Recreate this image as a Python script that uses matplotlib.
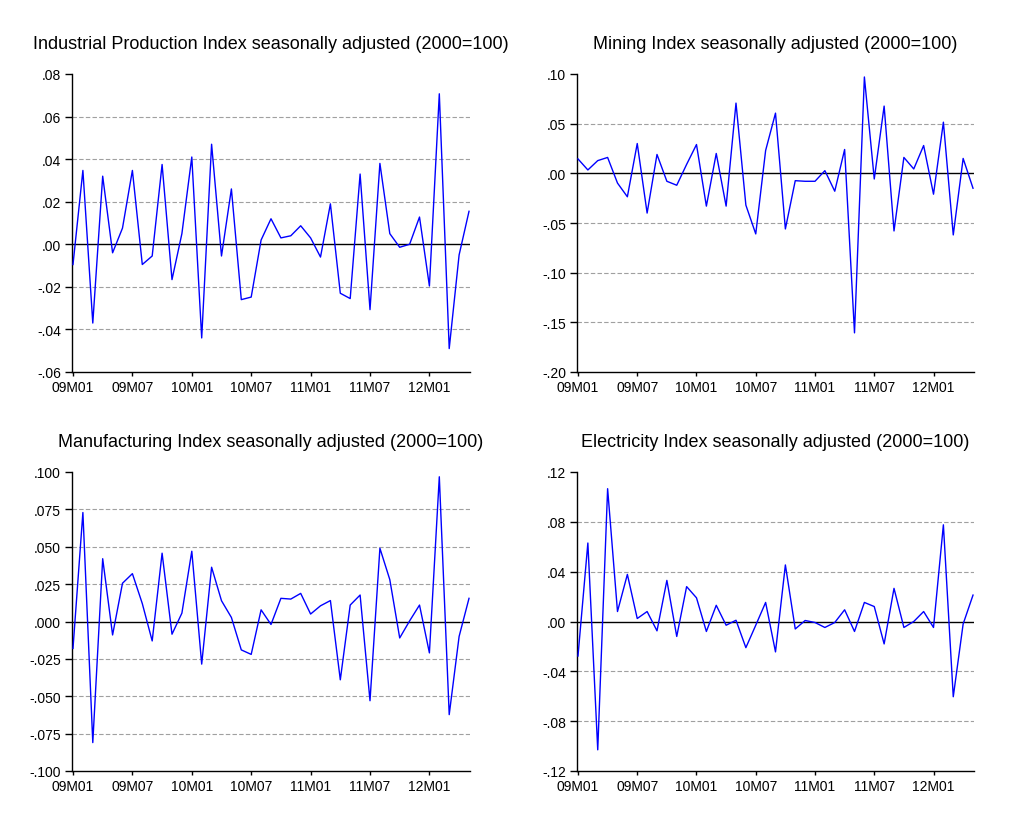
import matplotlib.pyplot as plt
from matplotlib.ticker import FuncFormatter

plt.rcParams['font.family'] = ['Liberation Sans', 'DejaVu Sans']

# monthly periods 2009M01 .. 2012M05
months = [f"{y:02d}M{m:02d}" for y in range(9, 13) for m in range(1, 13)][:41]

industrial = [-0.0095, 0.0347, -0.037, 0.032, -0.004, 0.0076, 0.0347, -0.0095, -0.0055, 0.0375,
              -0.0166, 0.005, 0.041, -0.044, 0.047, -0.0055, 0.026, -0.026, -0.0248, 0.002,
              0.012, 0.003, 0.004, 0.0087, 0.003, -0.006, 0.019, -0.023, -0.0255, 0.033,
              -0.0307, 0.038, 0.005, -0.0014, 0.0, 0.0128, -0.0196, 0.0707, -0.049, -0.005,
              0.0155]

mining = [0.0145, 0.0034, 0.0128, 0.016, -0.0098, -0.0236, 0.030, -0.040, 0.019, -0.008,
          -0.012, 0.009, 0.029, -0.033, 0.020, -0.033, 0.0707, -0.032, -0.061, 0.023,
          0.0606, -0.056, -0.0074, -0.008, -0.008, 0.0027, -0.018, 0.024, -0.1606, 0.097,
          -0.0057, 0.0677, -0.058, 0.016, 0.0044, 0.028, -0.021, 0.0515, -0.062, 0.015,
          -0.015]

manufacturing = [-0.018, 0.0729, -0.081, 0.042, -0.009, 0.0256, 0.032, 0.012, -0.013, 0.0457,
                 -0.0085, 0.0056, 0.047, -0.0285, 0.0363, 0.0139, 0.0027, -0.019, -0.022, 0.0078,
                 -0.002, 0.0155, 0.015, 0.0188, 0.005, 0.0105, 0.014, -0.039, 0.011, 0.0177,
                 -0.053, 0.049, 0.028, -0.011, 0.0004, 0.011, -0.021, 0.0968, -0.0623, -0.01,
                 0.0155]

electricity = [-0.0277, 0.063, -0.103, 0.1066, 0.008, 0.0378, 0.0024, 0.008, -0.0075, 0.033,
               -0.012, 0.028, 0.019, -0.008, 0.013, -0.003, 0.001, -0.021, -0.003, 0.0153,
               -0.0244, 0.0454, -0.006, 0.0008, -0.0008, -0.0048, -0.0008, 0.0094, -0.008, 0.0153,
               0.012, -0.018, 0.0266, -0.0048, 0.0, 0.008, -0.0048, 0.0776, -0.0604, -0.002,
               0.0212]

titles = ["Industrial Production Index seasonally adjusted (2000=100)",
          "Mining Index seasonally adjusted (2000=100)",
          "Manufacturing Index seasonally adjusted (2000=100)",
          "Electricity Index seasonally adjusted (2000=100)"]


def fmt(v, pos, nd):
    s = f"{v:.{nd}f}"
    return s.replace("0.", ".", 1)


fig = plt.figure(figsize=(10.24, 8.29), dpi=100)
W, H = 1024, 829
# left, top, right, bottom in pixels
boxes = [(72, 75, 470, 373), (577, 75, 974, 373),
         (72, 473, 470, 772), (577, 473, 974, 772)]
series = [industrial, mining, manufacturing, electricity]
ylims = [(-0.06, 0.08), (-0.20, 0.10), (-0.10, 0.10), (-0.12, 0.12)]
ysteps = [0.02, 0.05, 0.025, 0.04]
ndigits = [2, 2, 3, 2]

x = list(range(len(months)))
for box, data, title, (lo, hi), step, nd in zip(boxes, series, titles, ylims, ysteps, ndigits):
    l, t, r, b = box
    ax = fig.add_axes([l / W, 1 - b / H, (r - l) / W, (b - t) / H])
    nt = int(round((hi - lo) / step))
    ticks = [lo + k * step for k in range(nt + 1)]
    for tv in ticks[1:-1]:
        if abs(tv) < 1e-9:
            ax.axhline(0, color='black', lw=1, zorder=2)
        else:
            ax.axhline(tv, color='#a0a0a0', lw=0.8, ls=(0, (4, 2)), zorder=1)
    ax.plot(x, data, color='#0000ff', lw=1, zorder=3)
    ax.set_ylim(lo, hi)
    ax.set_xlim(-0.1, len(months) - 0.9)
    ax.set_yticks(ticks)
    ax.yaxis.set_major_formatter(FuncFormatter(lambda v, p, nd=nd: fmt(v, p, nd)))
    ax.set_xticks(x[::6])
    ax.set_xticklabels(months[::6])
    for s in ('top', 'right'):
        ax.spines[s].set_visible(False)
    ax.spines['left'].set_linewidth(1)
    ax.spines['bottom'].set_linewidth(1)
    ax.tick_params(axis='both', labelsize=10, width=1, direction='out')
    ax.tick_params(axis='y', length=5, pad=3)
    ax.tick_params(axis='x', length=3, pad=3)
    ax.set_title(title, fontsize=13, pad=19)

fig.savefig('out.png', dpi=100)
